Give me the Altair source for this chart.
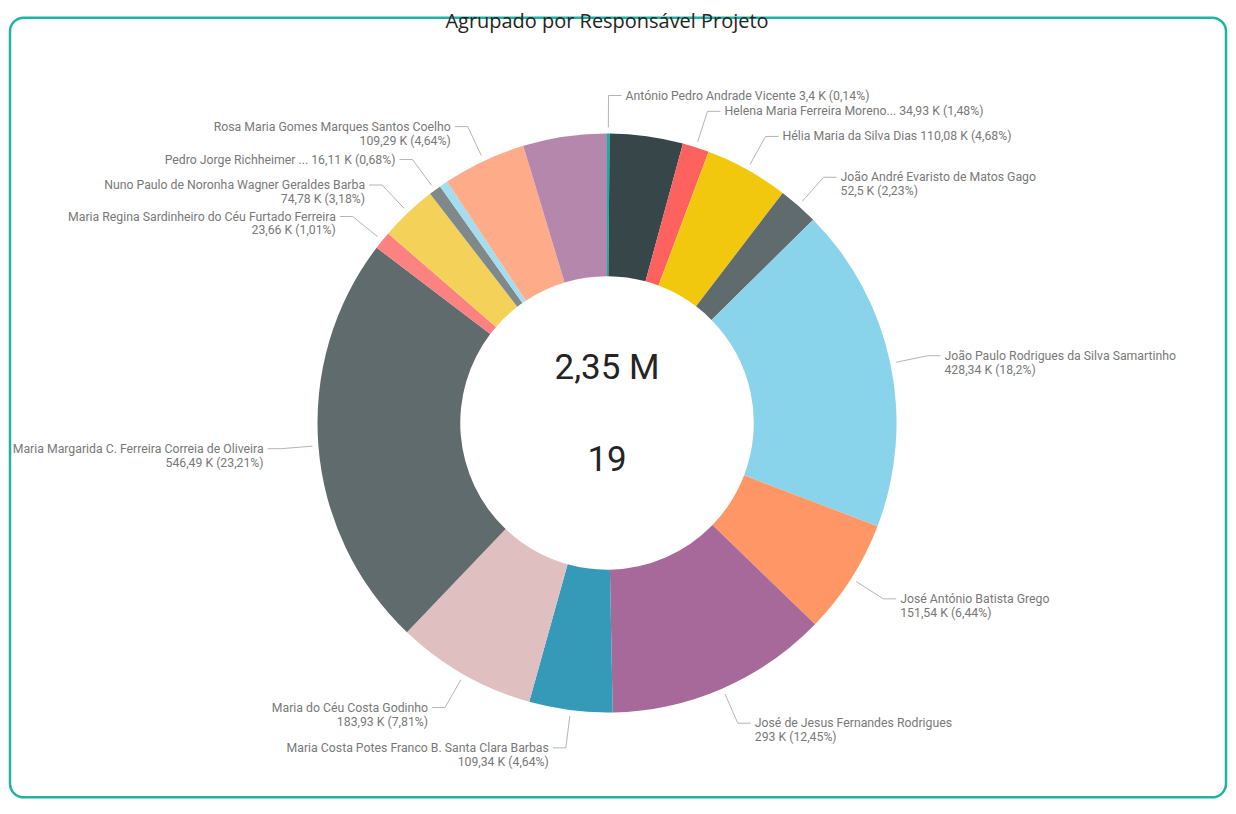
import math
import altair as alt
import pandas as pd

# ---------------- data ----------------
names = [
    "António Pedro Andrade Vicente",
    "Responsável sem rótulo A",
    "Helena Maria Ferreira Moreno...",
    "Hélia Maria da Silva Dias",
    "João André Evaristo de Matos Gago",
    "João Paulo Rodrigues da Silva Samartinho",
    "José António Batista Grego",
    "José de Jesus Fernandes Rodrigues",
    "Maria Costa Potes Franco B. Santa Clara Barbas",
    "Maria do Céu Costa Godinho",
    "Maria Margarida C. Ferreira Correia de Oliveira",
    "Maria Regina Sardinheiro do Céu Furtado Ferreira",
    "Nuno Paulo de Noronha Wagner Geraldes Barba",
    "Pedro Jorge Richheimer ...",
    "Responsável sem rótulo B",
    "Rosa Maria Gomes Marques Santos Coelho",
    "Responsável sem rótulo C",
]
values_k = [3.4, 96.0, 34.93, 110.08, 52.5, 428.34, 151.54, 293.0, 109.34,
            183.93, 546.49, 23.66, 74.78, 16.11, 11.0, 109.29, 110.0]
value_labels = ["3,4 K", None, "34,93 K", "110,08 K", "52,5 K", "428,34 K",
                "151,54 K", "293 K", "109,34 K", "183,93 K", "546,49 K",
                "23,66 K", "74,78 K", "16,11 K", None, "109,29 K", None]
pct_labels = ["0,14%", None, "1,48%", "4,68%", "2,23%", "18,2%", "6,44%",
              "12,45%", "4,64%", "7,81%", "23,21%", "1,01%", "3,18%",
              "0,68%", None, "4,64%", None]
one_line_labels = ["António Pedro Andrade Vicente",
                   "Helena Maria Ferreira Moreno...",
                   "Hélia Maria da Silva Dias",
                   "Pedro Jorge Richheimer ..."]
palette = ["#01B8AA", "#374649", "#FD625E", "#F2C80F", "#5F6B6D", "#8AD4EB",
           "#FE9666", "#A66999", "#3599B8", "#DFBFBF", "#5F6B6D", "#FB8281",
           "#F4D25A", "#7F898A", "#A4DDEE", "#FDAB89", "#B687AC"]
center_texts = ["2,35 M", "19"]
title_text = "Agrupado por Responsável Projeto"

# ---------------- layout ----------------
PAD_TOP = 9
W, H = 1218, 781
CX, CY = 598, 406
R_OUT, R_IN = 290, 147
FONT_LBL = "Roboto"

slices = pd.DataFrame({"name": names, "value": values_k,
                       "idx": list(range(len(names)))})

total = sum(values_k)
line_rows, lbl_rows = [], []
cum = 0.0
for i, (n, v) in enumerate(zip(names, values_k)):
    a0 = cum / total * 2 * math.pi
    cum += v
    a1 = cum / total * 2 * math.pi
    if value_labels[i] is None:
        continue
    m = (a0 + a1) / 2
    s, c = math.sin(m), math.cos(m)
    side = 1 if s >= 0 else -1
    p0 = (CX + (R_OUT + 6) * s, CY - (R_OUT + 6) * c)
    p1 = (CX + (R_OUT + 38) * s, CY - (R_OUT + 38) * c)
    p2 = (p1[0] + side * 13, p1[1])
    for k, p in enumerate([p0, p1, p2]):
        line_rows.append({"name": n, "k": k, "x": p[0], "y": p[1]})
    tail = f"{value_labels[i]} ({pct_labels[i]})"
    txt = f"{n} {tail}" if n in one_line_labels else f"{n}\n{tail}"
    lbl_rows.append({"name": n, "label": txt, "x": p2[0] + side * 4,
                     "y": p2[1], "side": "R" if side > 0 else "L"})

lines_df = pd.DataFrame(line_rows)
labels_df = pd.DataFrame(lbl_rows)

donut = alt.Chart(slices).mark_arc(innerRadius=R_IN, outerRadius=R_OUT).encode(
    theta=alt.Theta("value:Q", stack=True),
    order=alt.Order("idx:Q"),
    color=alt.Color("name:N", scale=alt.Scale(domain=names, range=palette),
                    legend=None),
    x=alt.value(CX),
    y=alt.value(CY),
)

leaders = alt.Chart(lines_df).mark_line(color="#b4b4b4", strokeWidth=1).encode(
    x=alt.X("x:Q", scale=None, axis=None),
    y=alt.Y("y:Q", scale=None, axis=None),
    detail="name:N",
    order="k:Q",
)

def label_layer(side, align):
    return alt.Chart(labels_df).transform_filter(
        alt.datum.side == side
    ).mark_text(align=align, baseline="middle", lineBreak="\n", lineHeight=14,
                font=FONT_LBL, fontSize=12.3, color="#787878").encode(
        x=alt.X("x:Q", scale=None, axis=None),
        y=alt.Y("y:Q", scale=None, axis=None),
        text="label:N",
    )

center_df = pd.DataFrame({"t": center_texts, "row": [0, 1]})
center = alt.Chart(center_df).mark_text(
    font="Roboto", fontSize=35, color="#252423", baseline="middle", align="center"
).encode(
    x=alt.value(CX),
    y=alt.Y("row:Q", scale=alt.Scale(domain=[0, 1], range=[CY - 55, CY + 37]),
            axis=None),
    text="t:N",
)

title = alt.Chart(pd.DataFrame({"t": [title_text]})).mark_text(
    font="Open Sans", fontSize=20, color="#252423", baseline="middle",
    align="center"
).encode(x=alt.value(CX), y=alt.value(4), text="t:N")

chart = alt.layer(
    donut, leaders, label_layer("R", "left"), label_layer("L", "right"),
    center, title
).properties(
    width=W, height=H,
    padding={"left": 2, "top": PAD_TOP, "right": 2, "bottom": 2},
    autosize=alt.AutoSizeParams(type="none"),
).configure_view(
    stroke="#1FB3A3", strokeWidth=2.5, cornerRadius=14
).resolve_scale(y="independent")

chart.save("out.html", embed_options={"renderer": "svg", "actions": False})
